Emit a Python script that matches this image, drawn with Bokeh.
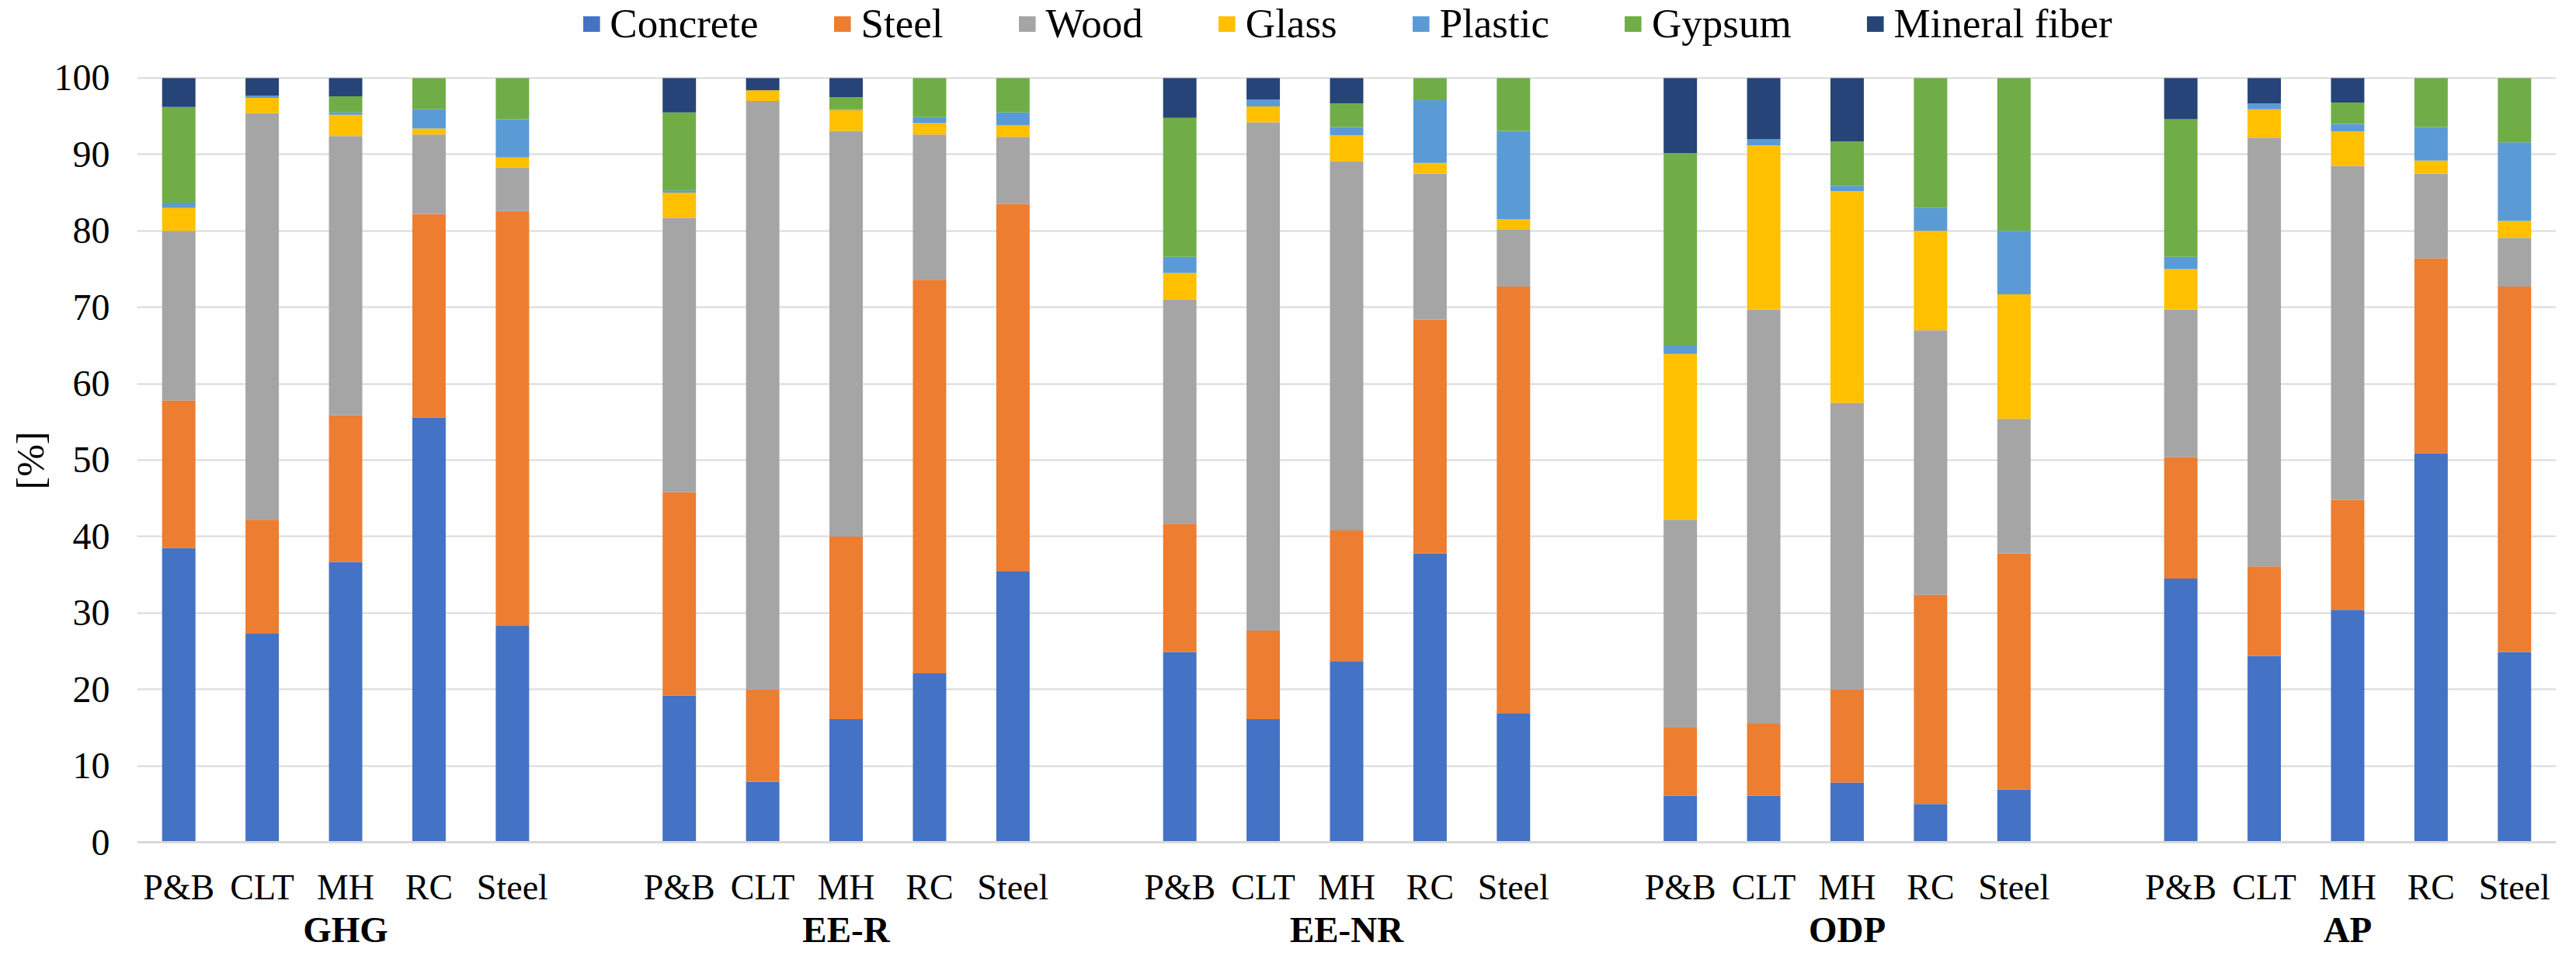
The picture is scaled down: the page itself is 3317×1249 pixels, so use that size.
from bokeh.plotting import figure
from bokeh.models import FactorRange, Range1d, Legend, LegendItem, FixedTicker, ColumnDataSource, Span, Title
from bokeh.embed import file_html
from bokeh.resources import INLINE

groups = ["GHG", "EE-R", "EE-NR", "ODP", "AP"]
systems = ["P&B", "CLT", "MH", "RC", "Steel"]
materials = ["Concrete", "Steel", "Wood", "Glass", "Plastic", "Gypsum", "Mineral fiber"]
colors = ["#4472C4", "#ED7D31", "#A5A5A5", "#FFC000", "#5B9BD5", "#70AD47", "#264478"]

# values in %, order: GHG(P&B,CLT,MH,RC,Steel), EE-R(...), EE-NR(...), ODP(...), AP(...)
concrete = [38.5, 27.3, 36.7, 55.6, 28.3,
            19.2, 7.9, 16.1, 22.1, 35.5,
            24.9, 16.1, 23.7, 37.8, 16.9,
            6.1, 6.1, 7.8, 5.0, 6.9,
            34.5, 24.4, 30.4, 50.9, 24.9]
steel = [19.3, 14.9, 19.2, 26.6, 54.3,
         26.6, 12.1, 23.9, 51.5, 48.0,
         16.8, 11.6, 17.1, 30.6, 55.8,
         8.9, 9.4, 12.2, 27.4, 30.9,
         15.9, 11.7, 14.4, 25.5, 47.8]
wood = [22.2, 53.2, 36.5, 10.4, 5.7,
        35.9, 77.0, 53.1, 19.0, 8.8,
        29.3, 66.5, 48.3, 19.1, 7.5,
        27.2, 54.2, 37.5, 34.6, 17.6,
        19.3, 56.1, 43.7, 11.1, 6.4]
glass = [3.0, 2.0, 2.8, 0.8, 1.3,
         3.3, 1.4, 2.7, 1.5, 1.5,
         3.5, 2.1, 3.4, 1.4, 1.3,
         21.7, 21.5, 27.7, 13.0, 16.3,
         5.3, 3.7, 4.5, 1.7, 2.2]
plastic = [0.7, 0.3, 0.3, 2.5, 5.0,
           0.3, 0.0, 0.1, 0.8, 1.7,
           2.1, 0.9, 1.1, 8.2, 11.6,
           1.1, 0.8, 0.7, 3.0, 8.3,
           1.6, 0.8, 1.0, 4.4, 10.3]
gypsum = [12.5, 0.0, 2.1, 4.1, 5.4,
          10.2, 0.0, 1.6, 5.1, 4.5,
          18.2, 0.0, 3.1, 2.9, 6.9,
          25.2, 0.0, 5.8, 17.0, 20.0,
          18.0, 0.0, 2.8, 6.4, 8.4]
mineral_fiber = [3.8, 2.3, 2.4, 0.0, 0.0,
                 4.5, 1.6, 2.5, 0.0, 0.0,
                 5.2, 2.8, 3.3, 0.0, 0.0,
                 9.8, 8.0, 8.3, 0.0, 0.0,
                 5.4, 3.3, 3.2, 0.0, 0.0]

y_ticks = [0, 10, 20, 30, 40, 50, 60, 70, 80, 90, 100]

factors = [(g, s) for g in groups for s in systems]
source = ColumnDataSource(data={
    "x": factors,
    "Concrete": concrete,
    "Steel": steel,
    "Wood": wood,
    "Glass": glass,
    "Plastic": plastic,
    "Gypsum": gypsum,
    "Mineral fiber": mineral_fiber,
})

FONT = "Liberation Serif"

# frame covers the legend strip on top and a small strip under the 0 line
p = figure(
    x_range=FactorRange(*factors, group_padding=1.0, factor_padding=0.0, range_padding=0.0),
    y_range=Range1d(-3.25, 110.16),
    width=3301, height=1233,
    min_border_left=176, min_border_right=10, min_border_top=0, min_border_bottom=117,
    output_backend="svg", toolbar_location=None,
)

renderers = p.vbar_stack(materials, x="x", width=0.4, color=colors, line_color=None, source=source)

p.outline_line_color = None
p.background_fill_color = "white"
p.border_fill_color = "white"
p.xgrid.grid_line_color = None
p.ygrid.grid_line_color = "#D9D9D9"
p.ygrid.grid_line_width = 2
p.ygrid.ticker = FixedTicker(ticks=y_ticks)

# category axis baseline (at value 0)
p.add_layout(Span(location=0, dimension="width", line_color="#D9D9D9", line_width=3))

yax = p.yaxis[0]
yax.ticker = FixedTicker(ticks=y_ticks)
yax.axis_line_color = None
yax.major_tick_line_color = None
yax.major_tick_out = 0
yax.minor_tick_line_color = None
yax.major_label_standoff = 35
yax.major_label_text_font = FONT
yax.major_label_text_font_size = "48px"
yax.major_label_text_color = "black"

# y-axis title, placed at the centre of the 0-100 span
p.add_layout(Title(text="[%]", align="left", offset=486, standoff=0,
                   text_font=FONT, text_font_size="50px", text_font_style="normal",
                   text_color="black"), "left")

xax = p.xaxis[0]
xax.axis_line_color = None
xax.major_tick_line_color = None
xax.major_tick_out = 0
xax.minor_tick_line_color = None
xax.major_label_standoff = 0
xax.major_label_text_font = FONT
xax.major_label_text_font_size = "46px"
xax.major_label_text_color = "black"
xax.group_text_font = FONT
xax.group_text_font_size = "47px"
xax.group_text_font_style = "bold"
xax.group_text_color = "black"
xax.separator_line_color = None

legend = Legend(
    items=[LegendItem(label=m, renderers=[r]) for m, r in zip(materials, renderers)],
    orientation="horizontal",
    location="top_center",
    spacing=94, label_standoff=11, glyph_width=27, glyph_height=25,
    padding=0, margin=0,
    border_line_color=None, background_fill_alpha=0,
    label_text_font=FONT, label_text_font_size="53px", label_text_color="black",
)
p.add_layout(legend)

open("out.html", "w").write(file_html(p, INLINE))
